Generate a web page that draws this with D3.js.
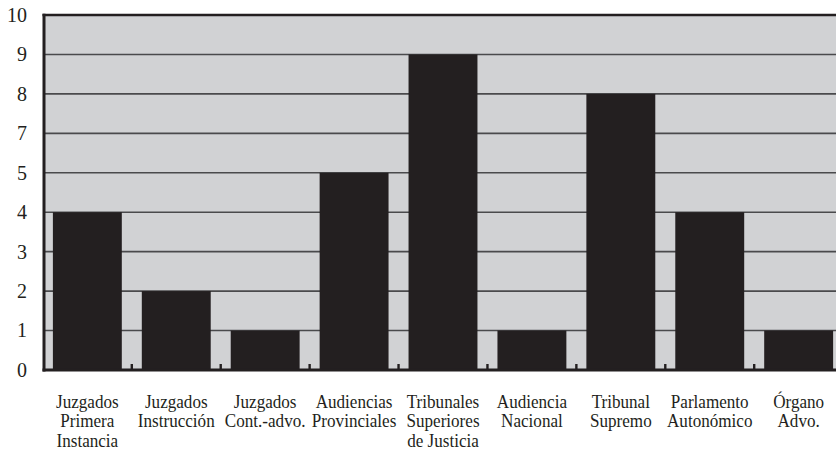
<!DOCTYPE html>
<html>
<head>
<meta charset="utf-8">
<script src="https://cdn.jsdelivr.net/npm/d3@7"></script>
<style>
  html, body { margin: 0; padding: 0; background: #ffffff; }
  svg { display: block; }
</style>
</head>
<body>
<svg id="chart" width="836" height="454"></svg>
<script>
// ---- data ----
const categories = [
  "Juzgados\nPrimera\nInstancia",
  "Juzgados\nInstrucción",
  "Juzgados\nCont.-advo.",
  "Audiencias\nProvinciales",
  "Tribunales\nSuperiores\nde Justicia",
  "Audiencia\nNacional",
  "Tribunal\nSupremo",
  "Parlamento\nAutonómico",
  "Órgano\nAdvo."
];
const values = [4, 2, 1, 5, 9, 1, 8, 4, 1];
// tick labels as printed on the original axis (note: no "6")
const tickValues = [0, 1, 2, 3, 4, 5, 7, 8, 9, 10];

// ---- layout ----
const W = 836, H = 454;
const plotLeft = 44, plotTop = 15, plotBottom = 370;
const levelH = (plotBottom - plotTop) / (tickValues.length - 1);
const FONT = "'Liberation Serif', 'Times New Roman', Times, serif";

const svg = d3.select("#chart");

// piecewise scale: printed tick labels sit on evenly spaced gridlines
const y = d3.scaleLinear()
  .domain(tickValues)
  .range(tickValues.map((d, i) => plotBottom - i * levelH));

const x = d3.scaleBand()
  .domain(categories)
  .range([plotLeft, 842])
  .paddingInner(0.225)
  .paddingOuter(0.1);

// background
svg.append("rect")
  .attr("x", plotLeft).attr("y", plotTop)
  .attr("width", W - plotLeft).attr("height", plotBottom - plotTop)
  .attr("fill", "#d1d2d4");

// gridlines
svg.append("g")
  .selectAll("line")
  .data(tickValues.filter(d => d !== 0 && d !== 10))
  .join("line")
  .attr("x1", plotLeft).attr("x2", W)
  .attr("y1", d => y(d)).attr("y2", d => y(d))
  .attr("stroke", "#4a4a4c")
  .attr("stroke-width", 1.6);

// bars
svg.append("g")
  .selectAll("rect")
  .data(values)
  .join("rect")
  .attr("x", (d, i) => x(categories[i]))
  .attr("y", d => y(d))
  .attr("width", x.bandwidth())
  .attr("height", d => plotBottom - y(d))
  .attr("fill", "#231f20");

// small tick notches between categories on the baseline
const step = x.step();
svg.append("g")
  .selectAll("rect")
  .data(categories.slice(1))
  .join("rect")
  .attr("x", d => x(d) - step * x.paddingInner() / 2 - 1.2)
  .attr("y", plotBottom - 6)
  .attr("width", 2.4)
  .attr("height", 6)
  .attr("fill", "#231f20");

// frame: top, left, bottom
svg.append("line")
  .attr("x1", plotLeft - 1.5).attr("x2", W)
  .attr("y1", plotTop).attr("y2", plotTop)
  .attr("stroke", "#231f20").attr("stroke-width", 2.6);
svg.append("line")
  .attr("x1", plotLeft).attr("x2", plotLeft)
  .attr("y1", plotTop - 1.3).attr("y2", plotBottom + 1.5)
  .attr("stroke", "#231f20").attr("stroke-width", 3);
svg.append("line")
  .attr("x1", plotLeft - 1.5).attr("x2", W)
  .attr("y1", plotBottom).attr("y2", plotBottom)
  .attr("stroke", "#231f20").attr("stroke-width", 3);

// y axis labels
const yAxis = d3.axisLeft(y).tickValues(tickValues).tickSize(0).tickPadding(17).tickFormat(d3.format("d"));
const gy = svg.append("g").attr("transform", `translate(${plotLeft},0)`).call(yAxis);
gy.select(".domain").remove();
gy.attr("font-family", null).attr("font-size", null);
gy.selectAll("text")
  .style("font-family", FONT)
  .style("font-size", "20px")
  .attr("fill", "#231f20");

// x labels (multi-line, slightly condensed)
const xl = svg.append("g");
categories.forEach((c, i) => {
  const cx = x(c) + x.bandwidth() / 2;
  const t = xl.append("text")
    .attr("text-anchor", "middle")
    .style("font-family", FONT)
    .style("font-size", "19px")
    .attr("fill", "#231f20")
    .attr("transform", `translate(${cx},408) scale(0.9,1)`);
  c.split("\n").forEach((line, j) => {
    t.append("tspan").attr("x", 0).attr("y", j * 19.5).text(line);
  });
});
</script>
</body>
</html>
